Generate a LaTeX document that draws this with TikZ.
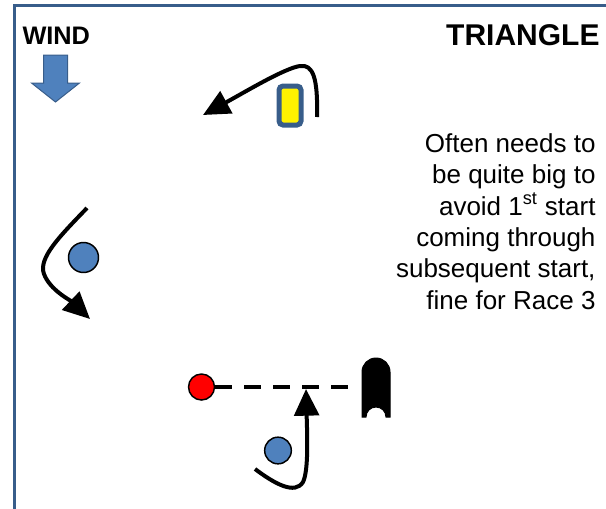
\documentclass[tikz,border=0pt]{standalone}
\usepackage{fontspec}
\setmainfont{Liberation Sans}
\usetikzlibrary{arrows.meta}
\tikzset{every picture/.style={line width=0.75pt}}
\definecolor{markblue}{RGB}{79,129,189}
\definecolor{frameblue}{RGB}{56,93,138}

\begin{document}
\begin{tikzpicture}[x=0.75pt,y=0.75pt,yscale=-1,xscale=1,
  frame/.style={draw=frameblue,line width=2.6pt},
  buoy/.style={circle,draw=black,line width=1.1pt,inner sep=0pt},
  boatpath/.style={draw=black,line width=3pt,-{Triangle[length=20pt,width=18.5pt]}},
  startline/.style={draw=black,line width=2.6pt,dash pattern=on 12.75pt off 9pt}]
\useasboundingbox (0,0) rectangle (606,508);

%Straight Lines: frame
\draw[frame] (14.5,512) -- (14.5,5.5) -- (612,5.5);

%Shape: Down Arrow (wind)
\draw[fill=markblue,draw=frameblue] (43.5,55) -- (67.5,55) -- (67.5,83) -- (79.5,83) -- (55.5,102) -- (31.5,83) -- (43.5,83) -- cycle;

%Shape: Rounded Rectangle (windward mark)
\node[draw=frameblue,fill=yellow,line width=3.75pt,rounded corners=3pt,minimum width=16.5pt,minimum height=29.25pt,inner sep=0pt] (windmark) at (290,105.5) {};

%Shape: Circle (gybe mark)
\node[buoy,fill=markblue,minimum size=22.5pt] (gybemark) at (83.5,257.5) {};
%Shape: Circle (leeward mark)
\node[buoy,fill=markblue,minimum size=20pt] (leewardmark) at (278,450.5) {};
%Shape: Circle (pin end)
\node[buoy,fill=red,minimum size=19.5pt] (pin) at (201.5,387) {};

%Shape: Committee boat
\coordinate (boat) at (376,387);
\draw[fill=black] (362,417) -- (362,372) arc (180:360:14) -- (390,417) -- (386,417) arc (360:180:10) -- cycle;

%Straight Lines: start line
\coordinate (lineend) at (348,387);
\draw[startline] (pin) -- (lineend);

%Curve Lines: round the windward mark
\coordinate (windin) at (317,117);
\coordinate (windout) at (203,115);
\draw[boatpath] (windin) .. controls (318,78) and (313,64) .. (300,66) .. controls (285,68) and (245,92) .. (windout);
%Curve Lines: round the gybe mark
\coordinate (gybein) at (87,208);
\coordinate (gybeout) at (90,319);
\draw[boatpath] (gybein) .. controls (60,236) and (38,258) .. (44,274) .. controls (50,290) and (70,300) .. (gybeout);
%Curve Lines: round the leeward mark
\coordinate (leewardin) at (255,469);
\coordinate (leewardout) at (306,389);
\draw[boatpath] (leewardin) .. controls (275,484) and (295,495) .. (303,482) .. controls (309,470) and (307,430) .. (leewardout);

% Text Node
\node[anchor=base west,inner sep=0pt,font=\fontsize{19}{23}\selectfont\bfseries] (windlabel) at (22,44) {WIND};
% Text Node
\node[anchor=base east,inner sep=0pt,font=\fontsize{22.5}{27}\selectfont\bfseries] (title) at (600,45) {TRIANGLE};
% Text Node
\node[anchor=north east,inner sep=0pt,align=right,font=\fontsize{19.5}{23.5}\selectfont] (note) at (596,133) {Often needs to\\be quite big to\\avoid 1\textsuperscript{st} start\\coming through\\subsequent start,\\fine for Race 3};

\end{tikzpicture}
\end{document}
